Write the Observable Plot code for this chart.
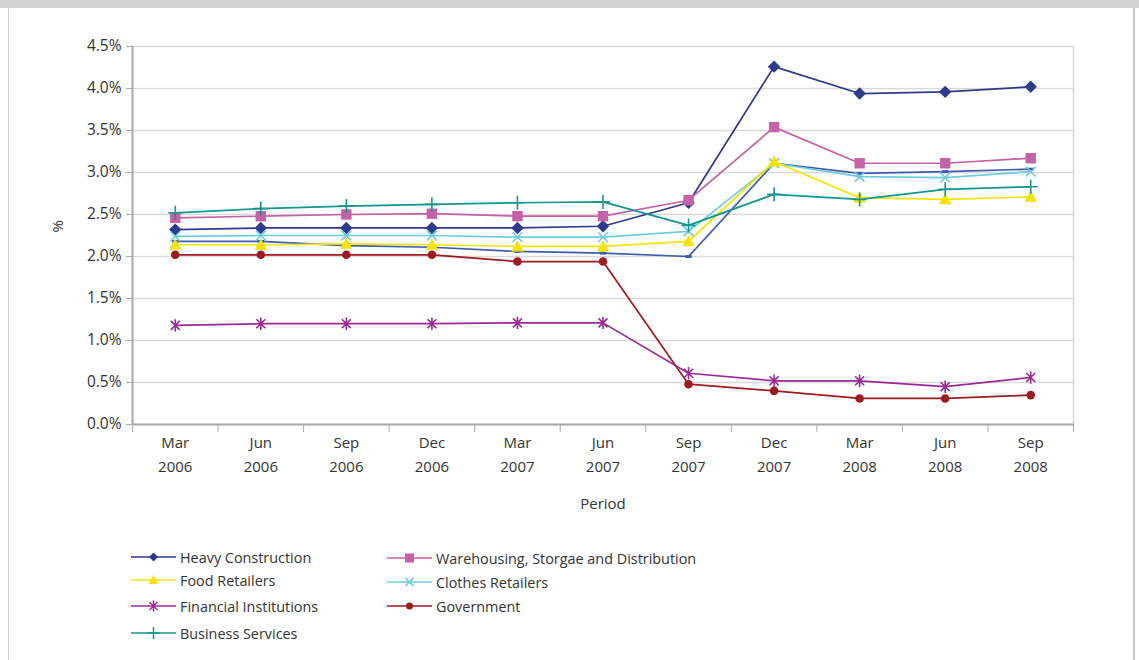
<!DOCTYPE html>
<html>
<head>
<meta charset="utf-8">
<script src="https://cdn.jsdelivr.net/npm/d3@7"></script>
<script src="https://cdn.jsdelivr.net/npm/@observablehq/plot@0.6"></script>
<style>
  html, body { margin: 0; padding: 0; background: #fff; }
  #wrap { position: relative; width: 1139px; height: 660px; overflow: hidden; font-family: 'Open Sans', sans-serif; color: #333; }
  #topbar { position: absolute; left: 0; top: 0; width: 1139px; height: 8px; background: #d3d3d3; }
  #lborder { position: absolute; left: 8px; top: 8px; width: 1px; height: 652px; background: #cfcfcf; }
  #rborder { position: absolute; left: 1133px; top: 8px; width: 2px; height: 652px; background: #c8c8c8; }
  #chart { position: absolute; left: 0; top: 0; }
  .leg { position: absolute; display: flex; align-items: center; font-size: 14.4px; white-space: nowrap; }
  .leg svg { margin-right: 4px; }
</style>
</head>
<body>
<div id="wrap">
  <div id="topbar"></div>
  <div id="lborder"></div>
  <div id="rborder"></div>
  <div id="chart"></div>
  <div id="legend"></div>
</div>
<script>
// ---- data ----
const periods = ["Mar 2006","Jun 2006","Sep 2006","Dec 2006","Mar 2007","Jun 2007","Sep 2007","Dec 2007","Mar 2008","Jun 2008","Sep 2008"];
const yTicks = [0, 0.5, 1, 1.5, 2, 2.5, 3, 3.5, 4, 4.5];

const heavyConstruction = [2.32, 2.34, 2.34, 2.34, 2.34, 2.36, 2.64, 4.26, 3.94, 3.96, 4.02];
const warehousing       = [2.46, 2.48, 2.50, 2.51, 2.48, 2.48, 2.67, 3.54, 3.11, 3.11, 3.17];
const foodRetailers     = [2.14, 2.14, 2.15, 2.14, 2.12, 2.12, 2.18, 3.13, 2.70, 2.68, 2.71];
const clothesRetailers  = [2.24, 2.25, 2.25, 2.25, 2.23, 2.23, 2.30, 3.11, 2.95, 2.94, 3.01];
const financial         = [1.18, 1.20, 1.20, 1.20, 1.21, 1.21, 0.61, 0.52, 0.52, 0.45, 0.56];
const government        = [2.02, 2.02, 2.02, 2.02, 1.94, 1.94, 0.48, 0.40, 0.31, 0.31, 0.35];
const businessServices  = [2.52, 2.57, 2.60, 2.62, 2.64, 2.65, 2.37, 2.74, 2.68, 2.80, 2.83];
const unlabeled         = [2.18, 2.18, 2.13, 2.11, 2.06, 2.04, 2.00, 3.11, 2.99, 3.01, 3.04];

const seriesNames = ["Heavy Construction","Food Retailers","Financial Institutions","Business Services","Warehousing, Storgae and Distribution","Clothes Retailers","Government",""];
const seriesColors = ["#2e3a8c","#f5e400","#9b2a97","#12968f","#c462a8","#6fcce0","#9c1b20","#3d5caf"];

// ---- marker symbols ----
function sym(kind) {
  return { draw(ctx, size) {
    const r = Math.sqrt(size / Math.PI);
    switch (kind) {
      case "diamond": ctx.moveTo(0,-r); ctx.lineTo(r,0); ctx.lineTo(0,r); ctx.lineTo(-r,0); ctx.closePath(); break;
      case "square": ctx.rect(-r,-r,2*r,2*r); break;
      case "triangle": ctx.moveTo(0,-r); ctx.lineTo(r,r*0.8); ctx.lineTo(-r,r*0.8); ctx.closePath(); break;
      case "circle": ctx.moveTo(r,0); ctx.arc(0,0,r,0,2*Math.PI); break;
      case "asterisk": { const a = r*0.72; ctx.moveTo(0,-r); ctx.lineTo(0,r); ctx.moveTo(-a,-a); ctx.lineTo(a,a); ctx.moveTo(-a,a); ctx.lineTo(a,-a); break; }
      case "times": { const a = r*0.75; ctx.moveTo(-a,-a); ctx.lineTo(a,a); ctx.moveTo(-a,a); ctx.lineTo(a,-a); break; }
      case "plus": ctx.moveTo(0,-r); ctx.lineTo(0,r); ctx.moveTo(-r,0); ctx.lineTo(r,0); break;
      case "dash": ctx.rect(-r,-r*0.45,2*r,r*0.9); break;
    }
  }};
}

const series = [
  {name: seriesNames[0], color: seriesColors[0], values: heavyConstruction, kind: "diamond", filled: true, r: 6.2},
  {name: seriesNames[4], color: seriesColors[4], values: warehousing, kind: "square", filled: true, r: 5.2},
  {name: seriesNames[6], color: seriesColors[6], values: government, kind: "circle", filled: true, r: 4.3},
  {name: seriesNames[7], color: seriesColors[7], values: unlabeled, kind: "dash", filled: true, r: 3.2},
  {name: seriesNames[5], color: seriesColors[5], values: clothesRetailers, kind: "times", filled: false, r: 6.5},
  {name: seriesNames[1], color: seriesColors[1], values: foodRetailers, kind: "triangle", filled: true, r: 6.2},
  {name: seriesNames[2], color: seriesColors[2], values: financial, kind: "asterisk", filled: false, r: 6.2},
  {name: seriesNames[3], color: seriesColors[3], values: businessServices, kind: "plus", filled: false, r: 7}
];

const bounds = d3.range(12).map(i => i - 0.5);

const marks = [
  Plot.gridY(yTicks, {stroke: "#d9d9d9", strokeOpacity: 1, strokeWidth: 1.6}),
  Plot.ruleX([10.5], {stroke: "#d9d9d9", strokeWidth: 1.6}),
  Plot.axisY(yTicks, {tickFormat: d => d.toFixed(1) + "%", tickSize: 6, tickPadding: 5, stroke: "#a9a9a9", fill: "#333", fontSize: 15.5, label: null}),
  Plot.axisX(bounds, {tickSize: 8, tickFormat: () => "", stroke: "#a9a9a9", label: null}),
  Plot.axisX(d3.range(11), {tickSize: 0, tickPadding: 6, tickFormat: i => periods[i].replace(" ", "\n"), lineHeight: 1.6, fill: "#333", fontSize: 15, label: null}),
  Plot.ruleY([0], {stroke: "#a9a9a9", strokeWidth: 2}),
  Plot.ruleX([-0.5], {stroke: "#a9a9a9", strokeWidth: 2}),
  Plot.text(["Period"], {frameAnchor: "bottom", dy: 84, fill: "#333", fontSize: 15}),
  Plot.text(["%"], {frameAnchor: "left", dx: -74, dy: -3, rotate: -90, fill: "#333", fontSize: 15})
];

for (const s of series) {
  const rows = s.values.map((v, i) => ({i, v}));
  marks.push(Plot.line(rows, {x: "i", y: "v", stroke: s.color, strokeWidth: 1.7}));
}
for (const s of series) {
  const rows = s.values.map((v, i) => ({i, v}));
  marks.push(Plot.dot(rows, {
    x: "i", y: "v", r: s.r, symbol: sym(s.kind),
    fill: s.filled ? s.color : "none",
    stroke: s.filled ? "none" : s.color,
    strokeWidth: s.filled ? 0 : 1.6
  }));
}

const chart = Plot.plot({
  width: 1139, height: 525,
  marginLeft: 132, marginRight: 66, marginTop: 46, marginBottom: 101,
  style: {fontFamily: "'Open Sans', sans-serif", fontSize: "15px", color: "#333", background: "transparent"},
  x: {domain: [-0.5, 10.5]},
  y: {domain: [0, 4.5]},
  marks
});
document.getElementById("chart").appendChild(chart);

// ---- legend ----
const legendItems = [
  {idx: 0, kind: "diamond", filled: true, r: 4.5, x: 131, y: 557},
  {idx: 1, kind: "triangle", filled: true, r: 5, x: 131, y: 580},
  {idx: 2, kind: "asterisk", filled: false, r: 5.5, x: 131, y: 606},
  {idx: 3, kind: "plus", filled: false, r: 6, x: 131, y: 633},
  {idx: 4, kind: "square", filled: true, r: 4.5, x: 387, y: 558},
  {idx: 5, kind: "times", filled: false, r: 5.5, x: 387, y: 582},
  {idx: 6, kind: "circle", filled: true, r: 3.5, x: 387, y: 606}
];
const legend = document.getElementById("legend");
for (const it of legendItems) {
  const color = seriesColors[it.idx];
  const div = document.createElement("div");
  div.className = "leg";
  div.style.left = it.x + "px";
  div.style.top = (it.y - 10) + "px";
  div.style.height = "20px";
  const svg = d3.create("svg").attr("width", 45).attr("height", 16);
  svg.append("line").attr("x1", 0).attr("x2", 45).attr("y1", 8).attr("y2", 8).attr("stroke", color).attr("stroke-width", 1.7);
  const path = d3.path();
  sym(it.kind).draw(path, it.r * it.r * Math.PI);
  svg.append("path").attr("d", path.toString()).attr("transform", "translate(22.5,8)")
    .attr("fill", it.filled ? color : "none").attr("stroke", it.filled ? "none" : color).attr("stroke-width", 1.5);
  div.appendChild(svg.node());
  const span = document.createElement("span");
  span.textContent = seriesNames[it.idx];
  div.appendChild(span);
  legend.appendChild(div);
}
</script>
</body>
</html>
